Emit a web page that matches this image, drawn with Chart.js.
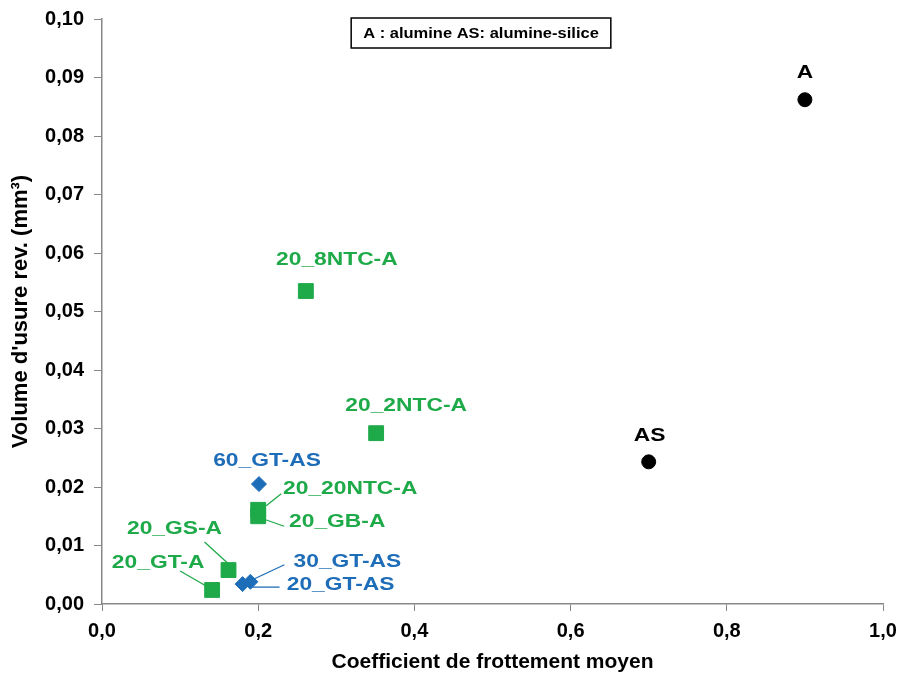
<!DOCTYPE html>
<html>
<head>
<meta charset="utf-8">
<script src="https://cdn.jsdelivr.net/npm/chart.js@4.4.0/dist/chart.umd.min.js"></script>
<style>
  html, body { margin: 0; padding: 0; background: #fff; }
  #wrap { width: 901px; height: 675px; }
</style>
</head>
<body>
<div id="wrap"><canvas id="usureChart" width="901" height="675"></canvas></div>
<script>
// Données
const refNoms = ["A", "AS"];
const refFrottement = [0.90, 0.70];
const refVolume = [0.0862, 0.0243];

const alumineNoms = ["20_8NTC-A", "20_2NTC-A", "20_20NTC-A", "20_GB-A", "20_GS-A", "20_GT-A"];
const alumineFrottement = [0.261, 0.351, 0.20, 0.20, 0.162, 0.141];
const alumineVolume = [0.0535, 0.0292, 0.0161, 0.0150, 0.0058, 0.0024];

const silNoms = ["60_GT-AS", "30_GT-AS", "20_GT-AS"];
const silFrottement = [0.201, 0.19, 0.18];
const silVolume = [0.0205, 0.0038, 0.0034];

const xTicks = [0, 0.2, 0.4, 0.6, 0.8, 1.0];

const VERT = "#1FAA4A";
const BLEU = "#1E6DB8";
const FONT = "'Liberation Sans', Arial, sans-serif";

// Placement des étiquettes (décalage en px par rapport au point) et traits de rappel
const etiquettes = {
  "A": { dx: 0, dy: -27 },
  "AS": { dx: 1, dy: -26 },
  "20_8NTC-A": { dx: 31, dy: -31 },
  "20_2NTC-A": { dx: 30, dy: -27 },
  "20_20NTC-A": { dx: 92, dy: -21, trait: [8, -4, 23, -16] },
  "20_GB-A": { dx: 79, dy: 6, trait: [6, 3, 26, 10] },
  "20_GS-A": { dx: -54, dy: -41, trait: [-24, -28, -1, -7] },
  "20_GT-A": { dx: -54, dy: -27, trait: [-32, -19, -6, -4] },
  "60_GT-AS": { dx: 8, dy: -23 },
  "30_GT-AS": { dx: 97, dy: -20, trait: [34, -17, 2, -2] },
  "20_GT-AS": { dx: 98, dy: 1, trait: [37, 3, 9, 3] }
};

function points(xs, ys) {
  return xs.map((x, i) => ({ x: x, y: ys[i] }));
}

// texte légèrement élargi, comme sur l'original
function texteLarge(ctx, txt, x, y, sx) {
  ctx.save();
  ctx.translate(x, y);
  ctx.scale(sx, 1);
  ctx.fillText(txt, 0, 0);
  ctx.restore();
}

// pas de marge automatique pour les libellés qui débordent
function sansMarge(axis) {
  axis.paddingLeft = 0;
  axis.paddingRight = 0;
  axis.paddingTop = 0;
  axis.paddingBottom = 0;
}

const pluginEtiquettes = {
  id: "etiquettes",
  afterDatasetsDraw(chart) {
    const ctx = chart.ctx;
    ctx.save();
    ctx.textAlign = "center";
    ctx.textBaseline = "middle";
    chart.data.datasets.forEach((ds, i) => {
      const meta = chart.getDatasetMeta(i);
      meta.data.forEach((pt, j) => {
        const nom = ds.noms[j];
        const e = etiquettes[nom];
        if (!e) return;
        ctx.fillStyle = ds.couleurTexte;
        ctx.strokeStyle = ds.couleurTexte;
        ctx.font = "bold 19px " + FONT;
        texteLarge(ctx, nom, pt.x + e.dx, pt.y + e.dy, 1.2);
        if (e.trait) {
          ctx.lineWidth = 1.3;
          ctx.beginPath();
          ctx.moveTo(pt.x + e.trait[0], pt.y + e.trait[1]);
          ctx.lineTo(pt.x + e.trait[2], pt.y + e.trait[3]);
          ctx.stroke();
        }
      });
    });

    // cadre de la légende
    const txt = "A : alumine AS: alumine-silice";
    ctx.font = "bold 15px " + FONT;
    const w = ctx.measureText(txt).width * 1.1 + 24;
    const cx = 481, cy = 33;
    ctx.fillStyle = "#fff";
    ctx.fillRect(cx - w / 2, cy - 15, w, 30);
    ctx.strokeStyle = "#000";
    ctx.lineWidth = 1.5;
    ctx.strokeRect(cx - w / 2, cy - 15, w, 30);
    ctx.fillStyle = "#000";
    texteLarge(ctx, txt, cx, cy + 1, 1.1);
    ctx.restore();
  }
};

new Chart(document.getElementById("usureChart"), {
  type: "scatter",
  data: {
    datasets: [
      {
        label: "Référence",
        noms: refNoms,
        couleurTexte: "#000",
        data: points(refFrottement, refVolume),
        pointStyle: "circle",
        pointRadius: 7,
        backgroundColor: "#000",
        borderColor: "#000"
      },
      {
        label: "Alumine",
        noms: alumineNoms,
        couleurTexte: VERT,
        data: points(alumineFrottement, alumineVolume),
        pointStyle: "rect",
        pointRadius: 10.5,
        backgroundColor: VERT,
        borderColor: VERT
      },
      {
        label: "Alumine-silice",
        noms: silNoms,
        couleurTexte: BLEU,
        data: points(silFrottement, silVolume),
        pointStyle: "rectRot",
        pointRadius: 7.5,
        backgroundColor: BLEU,
        borderColor: BLEU
      }
    ]
  },
  options: {
    responsive: false,
    animation: false,
    layout: { padding: { top: 19, right: 18, left: 0, bottom: 0 } },
    plugins: {
      legend: { display: false },
      tooltip: { enabled: false }
    },
    scales: {
      x: {
        type: "linear",
        min: 0,
        max: 1,
        afterBuildTicks: (axis) => { axis.ticks = xTicks.map(v => ({ value: v })); },
        afterFit: (axis) => { axis.height = 71; sansMarge(axis); },
        ticks: {
          color: "#000",
          font: { family: FONT, size: 20, weight: "bold" },
          padding: 8,
          callback: (v) => v.toFixed(1).replace(".", ",")
        },
        grid: { drawOnChartArea: false, drawTicks: true, tickLength: 7, color: "#888" },
        border: { color: "#888", width: 1.5 },
        title: {
          display: true,
          text: "Coefficient de frottement moyen",
          color: "#000",
          font: { family: FONT, size: 21, weight: "bold" },
          padding: { top: 0, bottom: 0 }
        }
      },
      y: {
        type: "linear",
        min: 0,
        max: 0.1,
        afterFit: (axis) => { axis.width = 102; sansMarge(axis); },
        ticks: {
          stepSize: 0.01,
          color: "#000",
          font: { family: FONT, size: 20, weight: "bold" },
          padding: 10,
          callback: (v) => v.toFixed(2).replace(".", ",")
        },
        grid: { drawOnChartArea: false, drawTicks: true, tickLength: 8, color: "#888" },
        border: { color: "#888", width: 1.5 },
        title: {
          display: true,
          text: "Volume d'usure rev. (mm³)",
          color: "#000",
          font: { family: FONT, size: 22, weight: "bold" },
          padding: { top: 8, bottom: 0 }
        }
      }
    }
  },
  plugins: [pluginEtiquettes]
});
</script>
</body>
</html>
